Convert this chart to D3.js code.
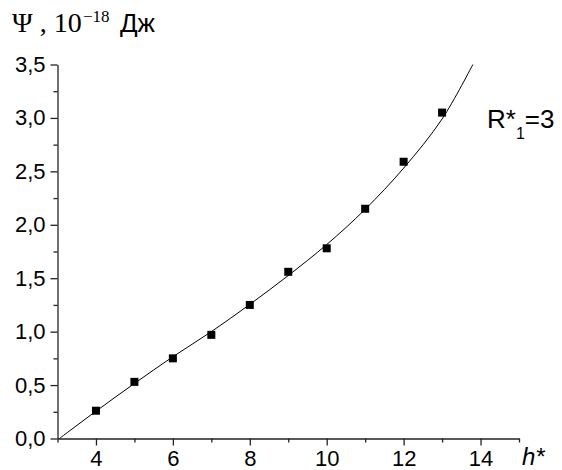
<!DOCTYPE html>
<html>
<head>
<meta charset="utf-8">
<script src="https://cdn.jsdelivr.net/npm/d3@7"></script>
<style>
  body { margin: 0; background: #fff; }
  text { font-family: "Liberation Sans", Arial, sans-serif; fill: #000; }
</style>
</head>
<body>
<script>
// measured points
var hValues = [4, 5, 6, 7, 8, 9, 10, 11, 12, 13];
var psiValues = [0.26, 0.53, 0.75, 0.97, 1.25, 1.56, 1.78, 2.15, 2.59, 3.05];

// fitted curve
var fitH = [3.05, 4, 5, 6, 7, 8, 9, 10, 11, 12, 13, 13.8];
var fitPsi = [0, 0.255, 0.515, 0.765, 1.0, 1.255, 1.525, 1.815, 2.145, 2.53, 2.99, 3.5];

var xTicks = [4, 6, 8, 10, 12, 14];
var xMinor = [3, 5, 7, 9, 11, 13, 15];
var yTicks = [0, 0.5, 1.0, 1.5, 2.0, 2.5, 3.0, 3.5];
var yMinor = [0.25, 0.75, 1.25, 1.75, 2.25, 2.75, 3.25];

var width = 562, height = 470;
var svg = d3.select("body").append("svg").attr("width", width).attr("height", height);

var x = d3.scaleLinear().domain([3, 15]).range([57.5, 519]);
var y = d3.scaleLinear().domain([0, 3.5]).range([438.5, 64.5]);

var fmt = function (d) { return d3.format(".1f")(d).replace(".", ","); };

// minor ticks
svg.append("g").attr("transform", "translate(0,438.5)")
      .call(d3.axisBottom(x).tickValues(xMinor).tickSize(4).tickFormat(""))
      .call(function (g) { g.select(".domain").remove(); });
svg.append("g").attr("transform", "translate(57.5,0)")
      .call(d3.axisLeft(y).tickValues(yMinor).tickSize(4).tickFormat(""))
      .call(function (g) { g.select(".domain").remove(); });

// main axes
var xAxis = svg.append("g").attr("transform", "translate(0,438.5)")
      .call(d3.axisBottom(x).tickValues(xTicks).tickSize(7).tickSizeOuter(0).tickPadding(6));
var yAxis = svg.append("g").attr("transform", "translate(57.5,0)")
      .call(d3.axisLeft(y).tickValues(yTicks).tickSize(7).tickSizeOuter(0).tickPadding(5).tickFormat(fmt));

svg.selectAll(".tick line, .domain").attr("stroke", "#222").attr("stroke-width", 1.3);
xAxis.selectAll("text").attr("font-size", 22).attr("font-family", "Liberation Sans, Arial").attr("dy", "0.68em");
yAxis.selectAll("text").attr("font-size", 22).attr("font-family", "Liberation Sans, Arial");

// fitted curve
var fitData = fitH.map(function (h, i) { return { h: h, psi: fitPsi[i] }; });
var line = d3.line()
      .x(function (d) { return x(d.h); })
      .y(function (d) { return y(d.psi); })
      .curve(d3.curveCatmullRom);

svg.append("path")
      .attr("fill", "none")
      .attr("stroke", "#000")
      .attr("stroke-width", 1)
      .attr("d", line(fitData));

// markers
var pts = hValues.map(function (h, i) { return { h: h, psi: psiValues[i] }; });
var ms = 8;
svg.selectAll("rect.pt")
      .data(pts)
      .enter().append("rect")
      .attr("class", "pt")
      .attr("x", function (d) { return x(d.h) - ms / 2; })
      .attr("y", function (d) { return y(d.psi) - ms / 2; })
      .attr("width", ms)
      .attr("height", ms)
      .attr("fill", "#000");

// y axis title
var serif = "Liberation Serif, Times New Roman, serif";
var yt = svg.append("text").attr("x", 12).attr("y", 32).attr("font-size", 28);
yt.append("tspan").attr("font-family", serif).text("Ψ , 10");
yt.append("tspan").attr("font-family", serif).attr("x", 83)
      .attr("font-size", 17).attr("dy", -10).text("−18");
yt.append("tspan").attr("x", 120).attr("dy", 10).attr("font-size", 26).text("Дж");

// x axis title
svg.append("text").attr("x", 522).attr("y", 465).attr("font-size", 24)
      .attr("font-style", "italic").text("h*");

// annotation
var ann = svg.append("text").attr("x", 487).attr("y", 128).attr("font-size", 26);
ann.append("tspan").text("R*");
ann.append("tspan").attr("font-size", 16).attr("dy", 11).text("1");
ann.append("tspan").attr("dy", -11).text("=3");
</script>
</body>
</html>
